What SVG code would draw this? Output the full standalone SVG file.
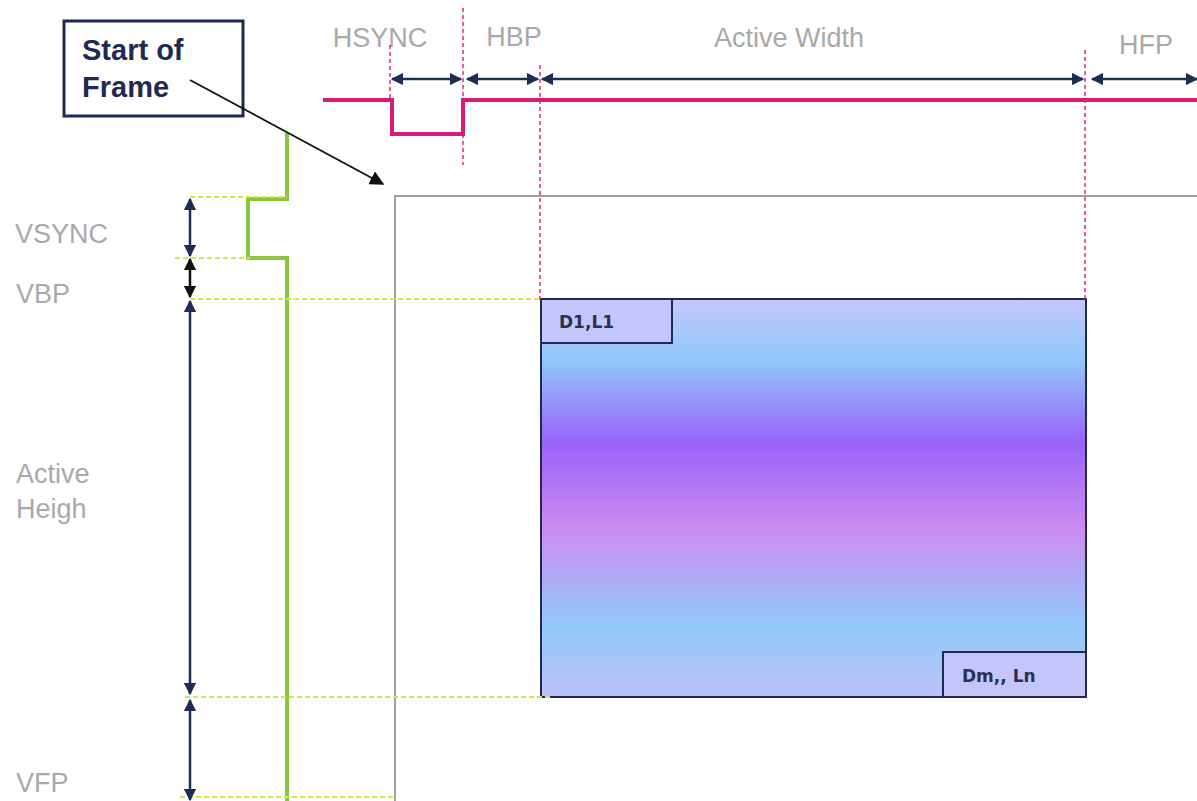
<svg xmlns="http://www.w3.org/2000/svg" width="1197" height="801" viewBox="0 0 1197 801">
<defs>
<style>
.lbl{font-family:"Liberation Sans",Arial,sans-serif;font-size:27px;fill:#a9a9a9}
.cell{font-family:"DejaVu Sans",Verdana,sans-serif;font-size:17px;font-weight:bold;fill:#2a3050}
.pinkdash{stroke:#e0287a;stroke-width:1.5;stroke-dasharray:4 3;fill:none}
.ydash{stroke:#d4e64a;stroke-width:2;stroke-dasharray:5 3;fill:none}
.navy{stroke:#1b2f55;stroke-width:2.5;fill:none}
</style>
<marker id="an" viewBox="0 0 10 10" refX="9" refY="5" markerWidth="5" markerHeight="5" orient="auto-start-reverse"><path d="M0,0 L10,5 L0,10 z" fill="#1b2f55"/></marker>
<marker id="ab" viewBox="0 0 10 10" refX="9" refY="5" markerWidth="5" markerHeight="5" orient="auto-start-reverse"><path d="M0,0 L10,5 L0,10 z" fill="#111"/></marker>
<marker id="ak" viewBox="0 0 10 10" refX="9" refY="5" markerWidth="8" markerHeight="8" orient="auto"><path d="M0,0 L10,5 L0,10 z" fill="#111"/></marker>
<linearGradient id="g" x1="0" y1="0" x2="0" y2="1">
<stop offset="0" stop-color="#c4c6fb"/>
<stop offset="0.15" stop-color="#92c9fa"/>
<stop offset="0.36" stop-color="#9a62fb"/>
<stop offset="0.58" stop-color="#cc8cf0"/>
<stop offset="0.82" stop-color="#92c9fa"/>
<stop offset="1" stop-color="#bcc2f8"/>
</linearGradient>
</defs>
<rect width="1197" height="801" fill="#fff"/>
<g id="frame"><rect x="395" y="196" width="820" height="620" fill="none" stroke="#a0a0a0" stroke-width="2"/></g>
<g id="active"><rect x="541" y="299" width="545" height="398" fill="url(#g)" stroke="#1f2a4e" stroke-width="2"/></g>
<g id="d1l1"><rect x="541" y="299" width="131" height="44" fill="#c4c6fb" stroke="#1f2a4e" stroke-width="2"/><text class="cell" x="559" y="328">D1,L1</text></g>
<g id="dmln"><rect x="943" y="652" width="143" height="45" fill="#c4c6fb" stroke="#1f2a4e" stroke-width="2"/><text class="cell" x="962" y="682">Dm,, Ln</text></g>
<g id="start"><rect x="64" y="21" width="179" height="95" fill="#fff" stroke="#1f2a4e" stroke-width="3"/><text x="82" y="60" font-family="Liberation Sans,Arial,sans-serif" font-size="29" font-weight="bold" fill="#1f2a52">Start of</text><text x="82" y="97" font-family="Liberation Sans,Arial,sans-serif" font-size="29" font-weight="bold" fill="#1f2a52">Frame</text></g>
<g id="labels">
<text class="lbl" x="380" y="47" text-anchor="middle">HSYNC</text>
<text class="lbl" x="514" y="46" text-anchor="middle">HBP</text>
<text class="lbl" x="789" y="47" text-anchor="middle">Active Width</text>
<text class="lbl" x="1146" y="54" text-anchor="middle">HFP</text>
<text class="lbl" x="15" y="243">VSYNC</text>
<text class="lbl" x="16" y="303">VBP</text>
<text class="lbl" x="16" y="483">Active</text>
<text class="lbl" x="16" y="518">Heigh</text>
<text class="lbl" x="16" y="792">VFP</text>
</g>
<g id="connectors">
<path class="pinkdash" d="M390,45 V100 M463,8 V165 M540,65 V300 M1085,50 V300"/>
<path d="M323,100 H392 V134 H463 V100 H1197" fill="none" stroke="#d81b7a" stroke-width="4"/>
<path d="M287,133 V199 H248 V258 H287 V801" fill="none" stroke="#8cc63f" stroke-width="4"/>
<path class="ydash" d="M190,197 H287 M175,258 H250 M190,299 H540 M185,697 H550 M180,797 H395"/>
<line class="navy" x1="392" y1="79" x2="461" y2="79" marker-start="url(#an)" marker-end="url(#an)"/>
<line class="navy" x1="467" y1="79" x2="538" y2="79" marker-start="url(#an)" marker-end="url(#an)"/>
<line class="navy" x1="542" y1="79" x2="1083" y2="79" marker-start="url(#an)" marker-end="url(#an)"/>
<line class="navy" x1="1092" y1="79" x2="1197" y2="79" marker-start="url(#an)" marker-end="url(#an)"/>
<line class="navy" x1="190" y1="199" x2="190" y2="256" marker-start="url(#an)" marker-end="url(#an)"/>
<line x1="190" y1="259" x2="190" y2="297" stroke="#111" stroke-width="2.5" marker-start="url(#ab)" marker-end="url(#ab)"/>
<line class="navy" x1="190" y1="301" x2="190" y2="694" marker-start="url(#an)" marker-end="url(#an)"/>
<line class="navy" x1="190" y1="700" x2="190" y2="800" marker-start="url(#an)" marker-end="url(#an)"/>
<line x1="190" y1="80" x2="383" y2="184" stroke="#111" stroke-width="1.8" marker-end="url(#ak)"/>
</g>
</svg>
